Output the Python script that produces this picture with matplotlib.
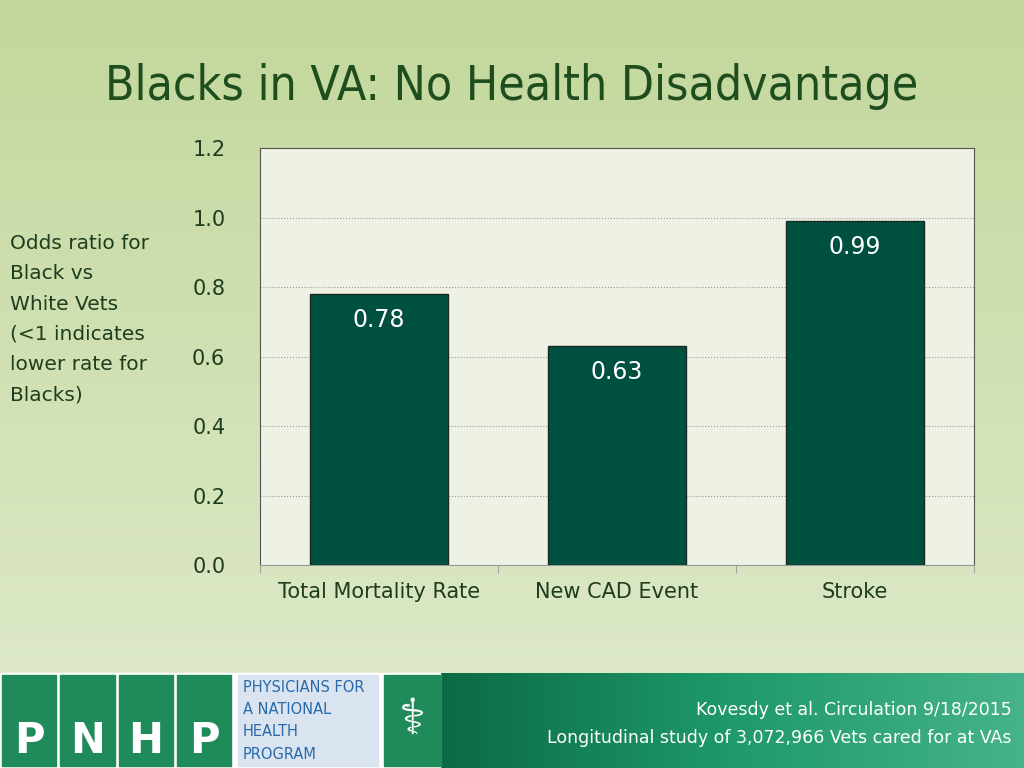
import matplotlib
matplotlib.use("Agg")
import matplotlib.pyplot as plt
import numpy as np
from matplotlib.patches import Rectangle
from matplotlib.colors import LinearSegmentedColormap

categories = ["Total Mortality Rate", "New CAD Event", "Stroke"]
values = [0.78, 0.63, 0.99]
yticks = [0.0, 0.2, 0.4, 0.6, 0.8, 1.0, 1.2]

fig = plt.figure(figsize=(10.24, 7.68), dpi=100)
bg = fig.add_axes([0, 0, 1, 1], zorder=-10)
grad = np.linspace(0, 1, 256).reshape(-1, 1)
cm = LinearSegmentedColormap.from_list("g", ["#c3d79c", "#e0ebcd"])
bg.imshow(grad, aspect="auto", cmap=cm, extent=[0, 1, 0, 1], origin="upper")
fcm = LinearSegmentedColormap.from_list("f", ["#0b6a45", "#1f9a6a", "#46b38a"])
bg.imshow(np.linspace(0, 1, 256).reshape(1, -1), aspect="auto", cmap=fcm,
          extent=[0.43, 1, 0, 95/768])
bg.add_patch(Rectangle((0, 0), 0.43, 95/768, color="white"))
for i, L in enumerate("PNHP"):
    x0 = 0.002 + i * 0.057
    bg.add_patch(Rectangle((x0, 0.003), 0.053, 0.118, color="#1f8a5a"))
    bg.text(x0 + 0.0265, 0.035, L, color="white", fontsize=30, fontweight="bold",
            ha="center", va="center", family="DejaVu Sans")
bg.add_patch(Rectangle((0.232, 0.003), 0.137, 0.118, color="#d9e4f0"))
for j, t in enumerate(["PHYSICIANS FOR", "A NATIONAL", "HEALTH", "PROGRAM"]):
    bg.text(0.237, 0.105 - j * 0.029, t, color="#2a6aa8", fontsize=10.5,
            va="center", ha="left")
bg.add_patch(Rectangle((0.375, 0.003), 0.055, 0.118, color="#1f8a5a"))
bg.text(0.403, 0.062, "⚕", color="white", fontsize=36, ha="center", va="center")
bg.set_xlim(0, 1); bg.set_ylim(0, 1); bg.axis("off")

fig.text(0.5, 0.887, "Blacks in VA: No Health Disadvantage", ha="center", va="center",
         fontsize=34.5, color="#1e4d1e", family="DejaVu Sans", fontstretch="condensed",
         fontweight="normal")
fig.text(0.01, 0.695, "Odds ratio for\nBlack vs\nWhite Vets\n(<1 indicates\nlower rate for\nBlacks)",
         ha="left", va="top", fontsize=14.5, color="#1e3d1e", linespacing=1.75)
fig.text(0.988, 0.057, "Kovesdy et al. Circulation 9/18/2015\nLongitudinal study of 3,072,966 Vets cared for at VAs",
         ha="right", va="center", fontsize=12.5, color="white", linespacing=1.75)

ax = fig.add_axes([0.254, 0.264, 0.697, 0.543])
ax.set_facecolor("#eef2e4")
x = np.arange(len(categories))
ax.bar(x, values, width=0.58, color="#005040", edgecolor="#1a2a22", linewidth=1, zorder=3)
for xi, v in zip(x, values):
    ax.text(xi, v - 0.04, f"{v:.2f}", ha="center", va="top", color="white", fontsize=17)
ax.set_xlim(-0.5, 2.5)
ax.set_ylim(0, 1.2)
ax.set_yticks(yticks)
ax.set_yticklabels([f"{t:.1f}" for t in yticks], fontsize=15, color="#1e3d1e")
ax.set_xticks(x)
ax.set_xticklabels(categories, fontsize=15, color="#1e3d1e")
ax.set_xticks([-0.5, 0.5, 1.5, 2.5], minor=True)
ax.tick_params(axis="x", which="major", length=0, pad=12)
ax.tick_params(axis="x", which="minor", length=6, color="#999999")
ax.tick_params(axis="y", length=0, pad=25)
ax.yaxis.grid(True, linestyle=":", color="#999999", linewidth=0.8, zorder=0)
for s in ["left", "right", "top"]:
    ax.spines[s].set_color("#555555")
ax.spines["bottom"].set_color("#999999")
fig.savefig("out.png", dpi=100)
